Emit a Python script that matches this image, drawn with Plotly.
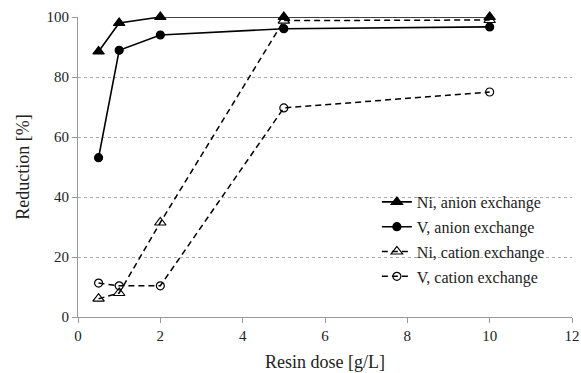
import plotly.graph_objects as go

dose = [0.5, 1, 2, 5, 10]
ni_anion = [88.5, 98.0, 100.0, 100.0, 100.0]
v_anion = [53.1, 88.9, 94.0, 96.1, 96.7]
ni_cation = [6.1, 8.0, 31.5, 98.8, 99.0]
v_cation = [11.3, 10.4, 10.4, 69.7, 75.0]
x_ticks = [0, 2, 4, 6, 8, 10, 12]
y_ticks = [0, 20, 40, 60, 80, 100]

names = ["Ni, anion exchange", "V, anion exchange", "Ni, cation exchange", "V, cation exchange"]
series = [ni_anion, v_anion, ni_cation, v_cation]
symbols = ["triangle-up", "circle", "triangle-up-open", "circle-open"]
sizes = [10, 8, 10, 8]
dashes = ["solid", "solid", "6px,4px", "6px,4px"]

FONT = "'Liberation Serif', 'Times New Roman', serif"
TXT = "#222222"

fig = go.Figure()
for i, (nm, ys, sym, sz, ds) in enumerate(zip(names, series, symbols, sizes, dashes)):
    fig.add_trace(go.Scatter(
        x=dose, y=ys, name=nm, mode="lines+markers",
        line=dict(color="black", width=1.6 if ds == "solid" else 1.5, dash=ds),
        marker=dict(symbol=sym, size=sz, color="black", line=dict(color="black", width=1.2)),
        cliponaxis=False, legendgroup=f"g{i}",
    ))

axcol = "#999999"
fig.update_layout(
    template="none",
    width=581, height=373,
    margin=dict(l=78, r=9, t=17, b=56),
    paper_bgcolor="white", plot_bgcolor="white",
    font=dict(family=FONT, size=15, color=TXT),
    showlegend=True,
    legend=dict(x=0.605, y=0.44, xanchor="left", yanchor="top",
                font=dict(size=16, family=FONT, color=TXT),
                bgcolor="rgba(0,0,0,0)", tracegroupgap=1),
    xaxis=dict(range=[0, 12], tickvals=x_ticks, showgrid=False, zeroline=False,
               showline=True, linecolor=axcol, linewidth=1.2,
               ticks="outside", ticklen=5, tickcolor=axcol, automargin=False,
               ticklabeloverflow="allow",
               tickfont=dict(family=FONT, size=15, color=TXT),
               title=dict(text="Resin dose [g/L]", font=dict(family=FONT, size=18, color=TXT), standoff=12)),
    yaxis=dict(range=[0, 100], tickvals=y_ticks, showgrid=True, gridcolor="#aaaaaa",
               griddash="dot", gridwidth=1, zeroline=False,
               showline=True, linecolor=axcol, linewidth=1.2,
               ticks="outside", ticklen=5, tickcolor=axcol, automargin=False,
               tickfont=dict(family=FONT, size=15, color=TXT),
               title=dict(text="Reduction [%]", font=dict(family=FONT, size=18, color=TXT), standoff=12)),
)

fig.write_html(
    "out.html",
    config={"displayModeBar": False},
    post_script="document.body.style.margin='0';document.body.style.overflow='hidden';",
)
